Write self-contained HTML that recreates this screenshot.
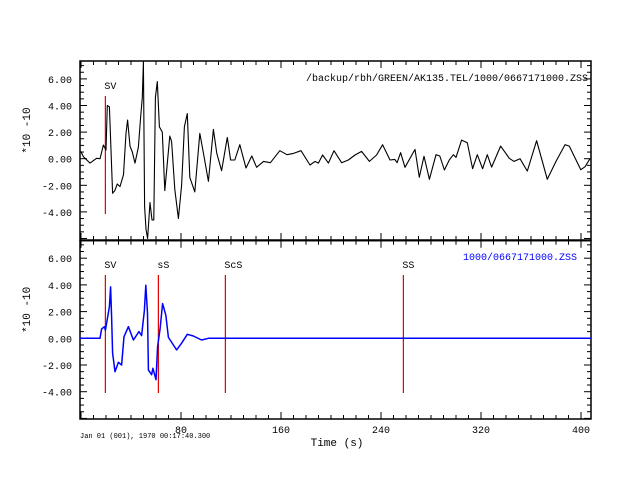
<!DOCTYPE html>
<html><head><meta charset="utf-8"><style>
html,body{margin:0;padding:0;background:#fff;}
svg{display:block;font-family:"Liberation Mono",monospace;}
</style></head><body>
<svg id="c" width="640" height="480"></svg>
<script>
const topTimes=[-0.8,0,1.9,7.2,12.5,15.2,17.9,20,21,22.7,25.3,27,29,31.2,34,36,37.3,39.2,41,43.2,45.9,47.7,49,49.9,50.9,52,53.3,55.2,56.8,58.2,59.5,61,62.7,65,67,71,72.5,75,77.9,80.5,82.7,85,87,91,95,97.6,101.9,105.9,108.6,112.5,117,119.7,123,127,132,136.6,140.5,146,151.5,159,164.8,170,176,183.2,187.2,189.9,193.3,197.9,202.4,208.5,213.8,219.2,224.5,230.7,236.5,241.3,247.2,251,252.9,255.7,259.2,267.2,270.6,274.4,278.7,284,287,290.7,294.7,297.9,300,304.5,309,313.3,317,321.3,325,328.5,335.7,342.6,346.4,351.2,357,364.5,373,380,387.2,390.6,399.8,403.3,407.2];
const topValues=[0.5,0.53,0.15,-0.33,0.03,0,1.03,0.65,4.0,3.9,-2.6,-2.4,-1.9,-2.1,-1.2,1.9,2.9,0.95,0.5,-0.33,0.88,3.1,4.6,7.3,-3.6,-5.3,-6.0,-3.3,-4.6,-4.6,4.6,5.8,2.4,2.0,-2.4,1.7,1.3,-2.3,-4.5,-2.0,2.4,3.4,-1.4,-2.5,1.9,0.6,-1.7,2.2,0.4,-0.9,1.6,-0.1,-0.1,1.05,-0.7,0.2,-0.65,-0.2,-0.3,0.6,0.3,0.4,0.6,-0.47,-0.2,-0.33,0.28,-0.33,0.6,-0.3,-0.1,0.28,0.55,-0.2,0.28,1.05,-0.1,-0.05,-0.3,0.45,-0.65,0.7,-1.4,0.18,-1.55,0.3,0.2,-0.85,-0.08,0.3,0.1,1.4,1.2,-0.75,0.3,-0.75,0.3,-0.63,0.95,0.03,-0.2,0,-0.93,1.35,-1.55,-0.2,1.05,0.95,-0.83,-0.6,0];
const botTimes=[-0.8,15.2,16.5,18.7,19.5,22.7,23.7,24.5,25.3,27.2,29.9,32.5,34.4,37.9,41.9,46.4,48.5,50.7,51.8,53.2,53.9,56.5,57.5,60,61.3,63.2,65.3,67.9,69.9,76.5,80.5,85,89.8,96.5,101.9,408];
const botValues=[0,0,0.7,0.87,0.6,2.36,3.85,1.6,-1.1,-2.5,-1.8,-2.0,0.12,0.87,-0.13,0.5,0.2,2.1,3.97,1.9,-2.37,-2.73,-2.25,-3.1,-0.63,0.67,2.6,1.7,0.07,-0.87,-0.37,0.3,0.17,-0.13,0,0];
const phaseNamesTop=["SV"];
const phaseTimesTop=[19.5];
const phaseNamesBot=["SV","sS","ScS","SS"];
const phaseTimesBot=[19.5,61.9,115.5,257.9];
const xTickLabels=[80,160,240,320,400];
const yTickLabels=[6,4,2,0,-2,-4];

const NS="http://www.w3.org/2000/svg";
const svg=document.getElementById('c');
const L=80,R=591;
const xs=t=>81+1.25*t;
const ysTop=v=>158.7-13.3*v;
const ysBot=v=>338.3-13.35*v;
function el(tag,attrs,text){const e=document.createElementNS(NS,tag);for(const k in attrs)e.setAttribute(k,attrs[k]);if(text!==undefined)e.textContent=text;svg.appendChild(e);return e;}

function panel(y0,y1,ys,name){
  const f=el('rect',{x:L,y:y0,width:R-L,height:y1-y0,fill:'none',stroke:'#000','stroke-width':1.5});
  
  
  for(let t=0;t<=400;t+=10){
    const x=xs(t);const len=(t%80===0)?7:4;
    el('line',{x1:x,y1:y1,x2:x,y2:y1-len,stroke:'#000'});
    el('line',{x1:x,y1:y0,x2:x,y2:y0+len,stroke:'#000'});
  }
  for(let v=-6;v<=7.25;v+=0.5){
    const y=ys(v);if(y<y0||y>y1)continue;
    const len=(Math.abs(v%2)<1e-6)?7:4;
    el('line',{x1:L,y1:y,x2:L+len,y2:y,stroke:'#000'});
    el('line',{x1:R,y1:y,x2:R-len,y2:y,stroke:'#000'});
  }
  yTickLabels.forEach(v=>{
    const tx=el('text',{x:72,y:ys(v)+4,'text-anchor':'end','font-size':10,fill:'#000'},v.toFixed(2));
    
    
  });
  const cy=(y0+y1)/2-20;
  const yl=el('text',{x:0,y:0,transform:`translate(30,${cy}) rotate(-90)`,'text-anchor':'middle','font-size':11,fill:'#000'},'*10 -10');
  
  
}
panel(61,240,ysTop,'top-panel');
panel(240.7,419,ysBot,'bottom-panel');

function markers(names,times,yA,yB,yLab,name){
  names.forEach((n,i)=>{
    const x=xs(times[i]);
    const ln=el('line',{x1:x,y1:yA,x2:x,y2:yB,stroke:'#e00000','stroke-width':1.2});
    
    
    const tx=el('text',{x:x-1,y:yLab,'font-size':10,fill:'#000'},n);
    
    
  });
}
markers(phaseNamesTop,phaseTimesTop,96,214,89,'top');
markers(phaseNamesBot,phaseTimesBot,275,393,268,'bottom');

function trace(ts,vs,ys,color,w,name){
  const d=ts.map((t,i)=>(i?'L':'M')+xs(t).toFixed(1)+','+ys(vs[i]).toFixed(1)).join(' ');
  const p=el('path',{d:d,fill:'none',stroke:color,'stroke-width':w,'stroke-linejoin':'round'});
  
  
}
trace(topTimes,topValues,ysTop,'#000',1.1,'top-trace');
trace(botTimes,botValues,ysBot,'#0000ff',1.5,'bottom-trace');

xTickLabels.forEach(v=>{
  const tx=el('text',{x:xs(v),y:433,'text-anchor':'middle','font-size':10,fill:'#000'},String(v));
  
  
});
let t1=el('text',{x:588,y:81,'text-anchor':'end','font-size':10,fill:'#000'},'/backup/rbh/GREEN/AK135.TEL/1000/0667171000.ZSS');


let t2=el('text',{x:577,y:260,'text-anchor':'end','font-size':10,fill:'#0000ff'},'1000/0667171000.ZSS');


let t3=el('text',{x:80,y:438,'font-size':7,fill:'#000'},'Jan 01 (001), 1970 00:17:40.300');


let t4=el('text',{x:337,y:446,'text-anchor':'middle','font-size':11,fill:'#000'},'Time (s)');


</script>
</body></html>
